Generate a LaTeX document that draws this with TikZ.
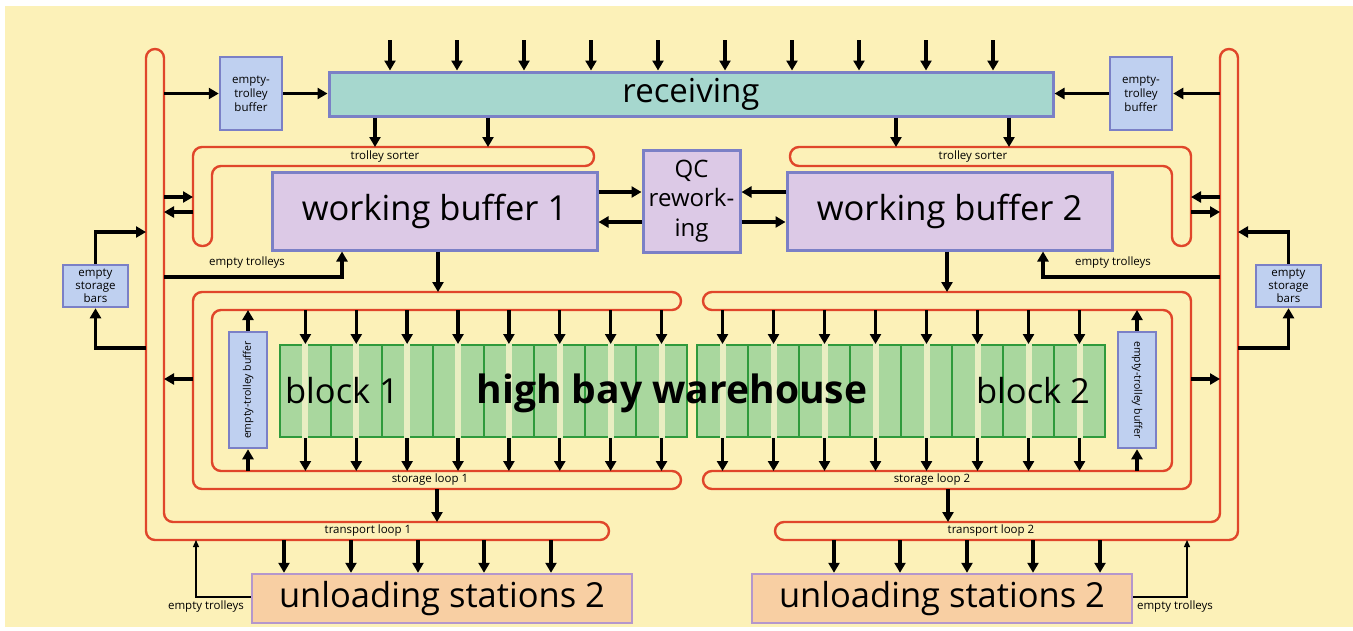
\documentclass[tikz,border=0pt]{standalone}
\usepackage{fontspec}
\setmainfont{Open Sans}
\usetikzlibrary{
  arrows.meta,
}
\definecolor{paper}{HTML}{FCF1B8}
\definecolor{trackred}{HTML}{E0462A}
\definecolor{boxblue}{HTML}{7B80C6}
\definecolor{recvfill}{HTML}{A6D7CE}
\definecolor{wbfill}{HTML}{DCC9E6}
\definecolor{buffill}{HTML}{BFD0F0}
\definecolor{unlfill}{HTML}{F8CFA3}
\definecolor{unlline}{HTML}{B497CC}
\definecolor{rackfill}{HTML}{A9D79E}
\definecolor{rackline}{HTML}{2F9A3C}
\definecolor{aisle}{HTML}{E9EEC2}

\begin{document}
\begin{tikzpicture}[x=1pt,y=-1pt,
  arr/.style={line width=3.4, -{Triangle[length=10pt,width=11pt]}},
  thinarr/.style={line width=1.3, -{Triangle[length=7pt,width=6pt]}},
  track/.style={draw=trackred, line width=2.4, rounded corners=9},
  bigtext/.style={font=\fontsize{34.5}{38}\selectfont},
  smalltext/.style={font=\fontsize{11.5}{14}\selectfont},
  station/.style={draw=boxblue, line width=3, inner sep=0pt, bigtext},
  buffer/.style={draw=boxblue, fill=buffill, line width=2.5, inner sep=0pt, align=center, smalltext},
  rack/.style={draw=rackline, fill=rackfill, line width=2, inner sep=0pt},
]
\useasboundingbox (0,0) rectangle (1353,630);
\fill[paper] (5,6) rectangle (1353,627);

% lines of the loops
\coordinate (tl1o) at (146,0);
\coordinate (tl1i) at (164,0);
\coordinate (tl2i) at (1220,0);
\coordinate (tl2o) at (1238,0);
\coordinate (sl1o) at (193,0);
\coordinate (sl2o) at (1191,0);
\coordinate (sortt) at (0,147);
\coordinate (slot) at (0,292);
\coordinate (slit) at (0,310);
\coordinate (slib) at (0,471);
\coordinate (slob) at (0,489);
\coordinate (tlit) at (0,522);
\coordinate (tlob) at (0,540);

% transport loops
\draw[track] (146,300) -- (146,540) -- (609,540) -- (609,522) -- (164,522) -- (164,49) -- (146,49) -- cycle;
\draw[track] (1238,300) -- (1238,540) -- (775,540) -- (775,522) -- (1220,522) -- (1220,49) -- (1238,49) -- cycle;
% storage loops
\draw[track] (193,400) -- (193,489) -- (681,489) -- (681,471) -- (212,471) -- (212,310) -- (681,310) -- (681,292) -- (193,292) -- cycle;
\draw[track] (1191,400) -- (1191,489) -- (703,489) -- (703,471) -- (1172,471) -- (1172,310) -- (703,310) -- (703,292) -- (1191,292) -- cycle;
% trolley sorters
\draw[track] (400,147) -- (193,147) -- (193,246) -- (212,246) -- (212,166) -- (594,166) -- (594,147) -- cycle;
\draw[track] (980,147) -- (1191,147) -- (1191,246) -- (1172,246) -- (1172,166) -- (790,166) -- (790,147) -- cycle;

% high bay warehouse
\node[rack, minimum width=407, minimum height=92] (blk1) at (483.5,391) {};
\node[rack, minimum width=408, minimum height=92] (blk2) at (901,391) {};
\foreach \i in {0,...,7} {
  \fill[aisle] ({302.4+50.875*\i},343) rectangle ({308.4+50.875*\i},439);
  \fill[aisle] ({719.5+51*\i},343) rectangle ({725.5+51*\i},439);
}
\foreach \i in {1,...,7} {
  \draw[rackline, line width=2] ({280+50.875*\i},345) -- ({280+50.875*\i},437);
  \draw[rackline, line width=2] ({697+51*\i},345) -- ({697+51*\i},437);
}
\node[bigtext, anchor=base] (b1txt) at (342,403) {block 1};
\node[bigtext, anchor=base] (b2txt) at (1033,403) {block 2};
\node[font=\fontsize{39}{42}\selectfont\bfseries, anchor=base] (hbw) at (672,403) {high bay warehouse};

% stations and buffers
\node[station, fill=recvfill, minimum width=724, minimum height=44, font=\fontsize{33}{36}\selectfont] (recv) at (691,94) {receiving};
\node[buffer, minimum width=62, minimum height=73] (etbL) at (251,93.5) {empty-\\trolley\\buffer};
\node[buffer, minimum width=62, minimum height=73] (etbR) at (1141,93.5) {empty-\\trolley\\buffer};
\node[station, fill=wbfill, minimum width=325, minimum height=78] (wb1) at (434.5,211) {working buffer 1};
\node[station, fill=wbfill, minimum width=325, minimum height=78] (wb2) at (949.5,211) {working buffer 2};
\node[station, fill=wbfill, minimum width=97, minimum height=102, align=center,
  font=\fontsize{24}{29.5}\selectfont] (qc) at (691.5,201) {QC\\rework-\\ing};
\node[buffer, minimum width=65, minimum height=42, font=\fontsize{11.5}{13}\selectfont] (esbL) at (95.5,286) {empty\\storage\\bars};
\node[buffer, minimum width=65, minimum height=42, font=\fontsize{11.5}{13}\selectfont] (esbR) at (1288.5,286) {empty\\storage\\bars};
\node[buffer, minimum width=38, minimum height=116, font=\fontsize{10.5}{12}\selectfont] (vbufL) at (248,390) {\rotatebox{90}{empty-trolley buffer}};
\node[buffer, minimum width=38, minimum height=116, font=\fontsize{10.5}{12}\selectfont] (vbufR) at (1137,390) {\rotatebox{-90}{empty-trolley buffer}};
\node[station, draw=unlline, fill=unlfill, line width=2.5, minimum width=380, minimum height=49] (unl1) at (442,598.5) {unloading stations 2};
\node[station, draw=unlline, fill=unlfill, line width=2.5, minimum width=380, minimum height=49] (unl2) at (942,598.5) {unloading stations 2};

% labels
\node[smalltext] (ts1) at (385,157) {trolley sorter};
\node[smalltext] (ts2) at (973,157) {trolley sorter};
\node[smalltext] (et1) at (247,263) {empty trolleys};
\node[smalltext] (et2) at (1113,263) {empty trolleys};
\node[smalltext] (sl1) at (430,480) {storage loop 1};
\node[smalltext] (sl2) at (932,480) {storage loop 2};
\node[smalltext] (tp1) at (368,531) {transport loop 1};
\node[smalltext] (tp2) at (991,531) {transport loop 2};
\node[smalltext] (et3) at (206,607) {empty trolleys};
\node[smalltext] (et4) at (1175,607) {empty trolleys};

% receiving
\foreach \x in {390,457,...,993}
  \draw[arr] (\x,40) -- (\x,0 |- recv.north);
\foreach \x in {375,488,896,1009}
  \draw[arr] (\x,0 |- recv.south) -- (\x,0 |- sortt);

% empty-trolley buffers
\draw[arr] (tl1i |- etbL.west) -- (etbL.west);
\draw[arr] (etbL.east) -- (recv.west |- etbL.east);
\draw[arr] (tl2i |- etbR.east) -- (etbR.east);
\draw[arr] (etbR.west) -- (recv.east |- etbR.west);

% sorters and transport loops
\draw[arr] (tl1i |- 0,197) -- (sl1o |- 0,197);
\draw[arr] (sl1o |- 0,212) -- (tl1i |- 0,212);
\draw[arr] (tl2i |- 0,197) -- (sl2o |- 0,197);
\draw[arr] (sl2o |- 0,212) -- (tl2i |- 0,212);

% QC
\draw[arr] (wb1.east |- 0,192) -- (qc.west |- 0,192);
\draw[arr] (qc.west |- 0,222) -- (wb1.east |- 0,222);
\draw[arr] (wb2.west |- 0,192) -- (qc.east |- 0,192);
\draw[arr] (qc.east |- 0,222) -- (wb2.west |- 0,222);

% empty trolleys to working buffers
\draw[arr] (tl1i |- 0,277) -| (342,0 |- wb1.south);
\draw[arr] (tl2i |- 0,277) -| (1043,0 |- wb2.south);
\draw[arr] (438,0 |- wb1.south) -- (438,0 |- slot);
\draw[arr] (947,0 |- wb2.south) -- (947,0 |- slot);

% empty storage bars
\draw[arr] (esbL.north) |- (tl1o |- 0,232);
\draw[arr] (tl1o |- 0,348) -| (esbL.south);
\draw[arr] (esbR.north) |- (tl2o |- 0,232);
\draw[arr] (tl2o |- 0,348) -| (esbR.south);

% storage loops out
\draw[arr] (sl1o |- 0,379) -- (tl1i |- 0,379);
\draw[arr] (sl2o |- 0,379) -- (tl2i |- 0,379);
\draw[arr] (437,0 |- slob) -- (437,0 |- tlit);
\draw[arr] (948,0 |- slob) -- (948,0 |- tlit);

% vertical buffers
\draw[arr] (vbufL.north) -- (vbufL.north |- slit);
\draw[arr] (vbufL.south |- slib) -- (vbufL.south);
\draw[arr] (vbufR.north) -- (vbufR.north |- slit);
\draw[arr] (vbufR.south |- slib) -- (vbufR.south);

% into and out of the blocks
\foreach \i [evaluate=\i as \x using 305.4+50.875*\i] in {0,...,7} {
  \draw[arr] (\x,0 |- slit) -- (\x,0 |- blk1.north);
  \draw[arr] (\x,0 |- blk1.south) -- (\x,0 |- slib);
}
\foreach \i [evaluate=\i as \x using 722.5+51*\i] in {0,...,7} {
  \draw[arr] (\x,0 |- slit) -- (\x,0 |- blk2.north);
  \draw[arr] (\x,0 |- blk2.south) -- (\x,0 |- slib);
}

% unloading
\foreach \x in {284,351,418,484,551}
  \draw[arr] (\x,0 |- tlob) -- (\x,0 |- unl1.north);
\foreach \x in {834,900,967,1033,1100}
  \draw[arr] (\x,0 |- tlob) -- (\x,0 |- unl2.north);
\draw[thinarr] (unl1.west |- 0,597) -| (196,0 |- tlob);
\draw[thinarr] (unl2.east |- 0,597) -| (1187,0 |- tlob);
\end{tikzpicture}
\end{document}
